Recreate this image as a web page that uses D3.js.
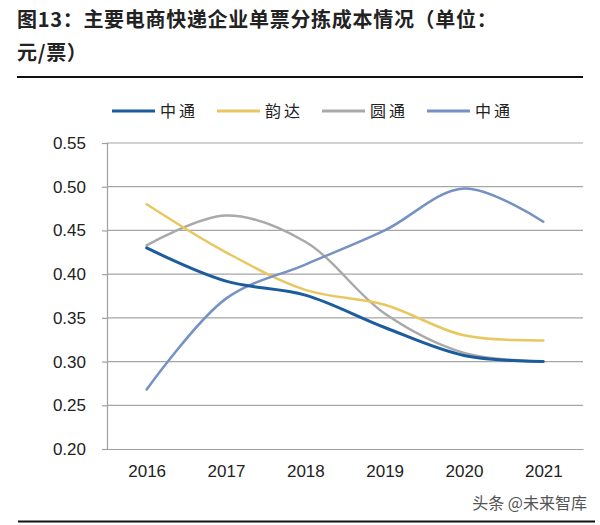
<!DOCTYPE html>
<html><head><meta charset="utf-8">
<script src="https://cdn.jsdelivr.net/npm/d3@7"></script>
<style>body{margin:0;background:#fff}svg{display:block}</style>
</head><body><svg id="c" width="600" height="525"></svg>
<script>
const years = ["2016","2017","2018","2019","2020","2021"];
const zto = [0.430, 0.392, 0.376, 0.339, 0.307, 0.300];
const yunda = [0.480, 0.425, 0.382, 0.365, 0.330, 0.324];
const yto = [0.433, 0.467, 0.437, 0.355, 0.310, 0.300];
const sto = [0.268, 0.372, 0.411, 0.450, 0.498, 0.460];
const yTicks = [0.20,0.25,0.30,0.35,0.40,0.45,0.50,0.55];
const legendNames = ["中通","韵达","圆通","中通"];
const colors = ["#1d5c9c","#e9c760","#a9a9a9","#7592c2"];
const widths = [3,2.5,2.5,2.5];

const svg = d3.select("#c");
const L = 107, R = 583, T = 143, B = 449;
const x = d3.scalePoint().domain(years).range([L,R]).padding(0.5);
const y = d3.scaleLinear().domain([0.20,0.55]).range([B,T]);

// title
const title = svg.append("g").attr("font-family","'Noto Sans CJK SC', sans-serif").attr("font-weight","bold").attr("font-size",20).attr("fill","#222").attr("letter-spacing",0.7);
title.append("text").attr("x",17).attr("y",27).text("图13：主要电商快递企业单票分拣成本情况（单位：");
title.append("text").attr("x",17).attr("y",60).text("元/票）");
svg.append("line").attr("x1",17).attr("x2",583).attr("y1",77).attr("y2",77).attr("stroke","#111").attr("stroke-width",2);

// gridlines
svg.append("g").selectAll("line").data(yTicks.slice(1)).join("line")
  .attr("x1",L).attr("x2",R).attr("y1",d=>y(d)).attr("y2",d=>y(d))
  .attr("stroke","#a6a6a6").attr("stroke-width",1.2);

// y axis
const ya = svg.append("g").attr("transform",`translate(${L},0)`)
  .call(d3.axisLeft(y).tickValues(yTicks).tickFormat(d3.format(".2f")).tickSize(5).tickPadding(16));
ya.select(".domain").attr("stroke","#a0a0a0").attr("stroke-width",1.2);
ya.selectAll(".tick line").attr("stroke","#a0a0a0").attr("stroke-width",1.2);
ya.selectAll("text").attr("font-family","'Liberation Sans', Arial, sans-serif").attr("font-size",17).attr("fill","#222");

// x axis
const xa = svg.append("g").attr("transform",`translate(0,${B})`)
  .call(d3.axisBottom(x).tickSize(0).tickPadding(16));
xa.select(".domain").attr("stroke","#a0a0a0").attr("stroke-width",1.2);
xa.selectAll("text").attr("font-family","'Liberation Sans', Arial, sans-serif").attr("font-size",17).attr("fill","#222");

// lines
const all = [zto, yunda, yto, sto];
const line = d3.line().x((d,i)=>x(years[i])).y(d=>y(d)).curve(d3.curveCatmullRom.alpha(0.5));
const order = [2,1,3,0];
svg.append("g").selectAll("path").data(order).join("path")
  .attr("d",k=>line(all[k])).attr("fill","none")
  .attr("stroke",k=>colors[k]).attr("stroke-width",k=>widths[k]).attr("stroke-linecap","round");

// legend
const lx = [112, 217, 322, 427];
const lg = svg.append("g");
legendNames.forEach((n,i)=>{
  lg.append("line").attr("x1",lx[i]).attr("x2",lx[i]+43).attr("y1",111).attr("y2",111)
    .attr("stroke",colors[i]).attr("stroke-width",3);
  lg.append("text").attr("x",lx[i]+48).attr("y",117).text(n)
    .attr("font-family","'Noto Sans CJK SC', sans-serif").attr("font-size",16).attr("letter-spacing",3).attr("fill","#222");
});

// watermark and bottom rule
svg.append("text").attr("x",587).attr("y",509).attr("text-anchor","end")
  .attr("font-family","'Noto Sans CJK SC', sans-serif").attr("font-size",16).attr("fill","#555").text("头条 @未来智库");
svg.append("line").attr("x1",18).attr("x2",595).attr("y1",521.5).attr("y2",521.5).attr("stroke","#111").attr("stroke-width",2);
</script></body></html>
